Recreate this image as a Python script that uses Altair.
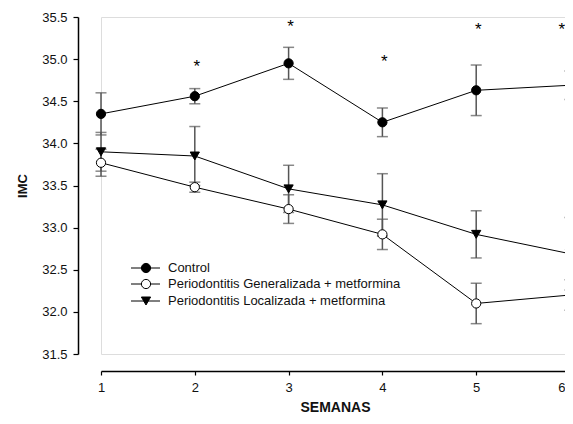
import altair as alt
import pandas as pd

weeks = [1, 2, 3, 4, 5, 6]
series_names = ["Control",
                "Periodontitis Generalizada + metformina",
                "Periodontitis Localizada + metformina"]
control = [34.35, 34.56, 34.95, 34.25, 34.63, 34.69]
control_err = [0.25, 0.09, 0.19, 0.17, 0.30, 0.17]
general = [33.77, 33.48, 33.22, 32.92, 32.10, 32.20]
general_err = [0.16, 0.06, 0.17, 0.18, 0.24, 0.18]
local = [33.90, 33.85, 33.46, 33.27, 32.92, 32.69]
local_err = [0.23, 0.35, 0.28, 0.37, 0.28, 0.43]
star_weeks = [2, 3, 4, 5]
star_y = [34.96, 35.44, 35.02, 35.40]
edge_star_week = [6]
edge_star_y = [35.40]

rows = []
for name, vals, errs in [(series_names[0], control, control_err),
                         (series_names[1], general, general_err),
                         (series_names[2], local, local_err)]:
    for w, v, e in zip(weeks, vals, errs):
        rows.append({"week": w, "series": name, "imc": v, "lo": v - e, "hi": v + e})
df = pd.DataFrame(rows)
stars = pd.DataFrame({"week": star_weeks, "y": star_y, "t": ["*"] * len(star_weeks)})
edge_stars = pd.DataFrame({"week": edge_star_week, "y": edge_star_y, "t": ["*"]})

FONT = "Liberation Sans"
xscale = alt.Scale(domain=[1, 6], nice=False, zero=False, range=[0, 469])
yscale = alt.Scale(domain=[31.5, 35.5], nice=False, zero=False)

xenc = alt.X("week:Q", scale=xscale,
             axis=alt.Axis(title="SEMANAS", values=weeks, format="d", offset=17,
                           grid=False, tickSize=4, labelPadding=6, titlePadding=6,
                           domainColor="black", domainWidth=1.5, tickColor="black",
                           tickWidth=1.2, labelFontSize=13, labelColor="#111",
                           labelAlign=alt.expr("datum.value == 6 ? 'right' : 'center'"),
                           labelOffset=alt.expr("datum.value == 6 ? -5 : 0"),
                           titleFontSize=14, titleFontWeight="bold", titleColor="#111",
                           labelFont=FONT, titleFont=FONT, titleX=234))
yaxis = alt.Axis(title="IMC", values=[31.5, 32.0, 32.5, 33.0, 33.5, 34.0, 34.5, 35.0, 35.5],
                 format=".1f", offset=23, grid=False, tickSize=5, labelPadding=6,
                 titlePadding=12, domainColor="black", domainWidth=1.5, tickColor="black",
                 tickWidth=1.2, labelFontSize=13, labelColor="#111", titleFontSize=13,
                 titleFontWeight="bold", titleColor="#111", labelFont=FONT, titleFont=FONT)

base = alt.Chart(df)

bars = base.mark_rule(color="#555", strokeWidth=1.5).encode(
    x=xenc, y=alt.Y("lo:Q", scale=yscale, axis=yaxis), y2="hi:Q")
caps_lo = base.mark_tick(color="#555", size=11, thickness=1.5, orient="horizontal").encode(
    x="week:Q", y=alt.Y("lo:Q", scale=yscale))
caps_hi = base.mark_tick(color="#555", size=11, thickness=1.5, orient="horizontal").encode(
    x="week:Q", y=alt.Y("hi:Q", scale=yscale))

lines = base.mark_line(color="black", strokeWidth=1).encode(
    x="week:Q", y=alt.Y("imc:Q", scale=yscale), detail="series:N")

shape_scale = alt.Scale(domain=series_names, range=["circle", "circle", "triangle-down"])
fill_scale = alt.Scale(domain=series_names, range=["black", "white", "black"])

points = base.mark_point(filled=True, size=85, stroke="black", strokeWidth=1, opacity=1).encode(
    x="week:Q", y=alt.Y("imc:Q", scale=yscale),
    shape=alt.Shape("series:N", scale=shape_scale, legend=None),
    fill=alt.Fill("series:N", scale=fill_scale, legend=None))

star_marks = alt.Chart(stars).mark_text(fontSize=17, font=FONT, color="black",
                                        baseline="middle", dy=5, dx=2).encode(
    x="week:Q", y=alt.Y("y:Q", scale=yscale), text="t:N")
edge_star_marks = alt.Chart(edge_stars).mark_text(fontSize=17, font=FONT, color="black",
                                                  baseline="middle", align="right",
                                                  dy=5, dx=-5).encode(
    x="week:Q", y=alt.Y("y:Q", scale=yscale), text="t:N")

# manual legend
leg_layers = []
leg_x0, leg_x1, leg_sym, leg_text = 30, 59, 45, 67
leg_rows = [251, 267, 284]
leg_shapes = ["circle", "circle", "triangle-down"]
leg_fills = ["black", "white", "black"]
leg_df = pd.DataFrame({"label": series_names})
for i, name in enumerate(series_names):
    d = alt.Chart(leg_df.iloc[[i]])
    leg_layers.append(d.mark_rule(color="black", strokeWidth=1).encode(
        x=alt.value(leg_x0), x2=alt.value(leg_x1), y=alt.value(leg_rows[i])))
    leg_layers.append(d.mark_point(shape=leg_shapes[i], filled=True, fill=leg_fills[i],
                                   stroke="black", strokeWidth=1, size=85, opacity=1).encode(
        x=alt.value(leg_sym), y=alt.value(leg_rows[i])))
    leg_layers.append(d.mark_text(align="left", baseline="middle", fontSize=13, font=FONT,
                                  color="#111").encode(
        x=alt.value(leg_text), y=alt.value(leg_rows[i]), text="label:N"))

chart = alt.layer(bars, caps_lo, caps_hi, lines, points, star_marks, edge_star_marks,
                  *leg_layers).properties(
    width=464, height=337,
    autosize=alt.AutoSizeParams(type="none"),
    padding={"left": 93, "top": 9, "right": 0, "bottom": 62},
).configure_view(strokeWidth=0, stroke="white").configure(background="white")

chart.save("out.html", embed_options={"renderer": "svg", "actions": False})
